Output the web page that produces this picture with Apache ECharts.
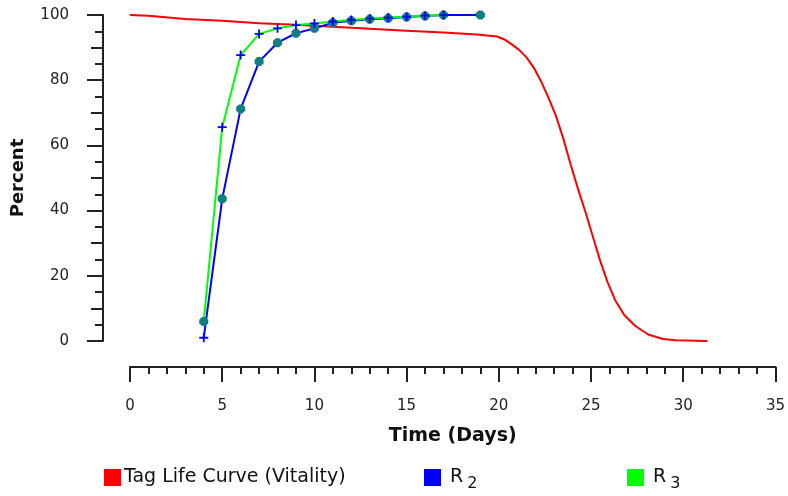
<!DOCTYPE html>
<html>
<head>
<meta charset="utf-8">
<script src="https://cdn.jsdelivr.net/npm/echarts@6/dist/echarts.min.js"></script>
<style>
html,body{margin:0;padding:0;background:#fff;}
#chart{width:788px;height:496px;}
</style>
</head>
<body>
<div id="chart"></div>
<script>
// ---- Data ----
var tagDays = [0, 1, 3, 5, 7, 9, 11, 13, 15, 17, 18.8, 19.9, 20.3, 20.7, 21.1, 21.5, 21.9, 22.3, 22.7, 23.1, 23.5, 23.9, 24.3, 24.7, 25.1, 25.5, 25.9, 26.3, 26.8, 27.4, 28.1, 28.9, 29.6, 31.3];
var tagVals = [100, 99.8, 98.8, 98.2, 97.5, 97.0, 96.4, 95.8, 95.2, 94.6, 94.0, 93.4, 92.5, 91.0, 89.3, 87.0, 83.8, 79.5, 74.5, 69.0, 62.0, 54.0, 46.5, 39.5, 32.0, 24.5, 18.0, 12.6, 8.0, 4.6, 2.0, 0.6, 0.2, 0];

var r2Days = [4, 5, 6, 7, 8, 9, 10, 11, 12, 13, 14, 15, 16, 17, 19];
var r2Vals = [1, 43.6, 71.2, 85.7, 91.5, 94.4, 95.9, 97.6, 98.2, 98.7, 99.0, 99.4, 99.7, 100, 100];

var r3Days = [4, 5, 6, 7, 8, 9, 10, 11, 12, 13, 14, 15, 16, 17];
var r3Vals = [6, 65.6, 87.7, 94.2, 95.9, 96.9, 97.4, 98.0, 98.5, 98.9, 99.2, 99.5, 99.8, 100];

var xTicks = [0, 5, 10, 15, 20, 25, 30, 35];
var yTicks = [0, 20, 40, 60, 80, 100];

var seriesNames = ['Tag Life Curve (Vitality)', 'R2', 'R3'];

// ---- Styling ----
var FONT = 'DejaVu Sans';
var plusPath = 'path://M4,0H6V4H10V6H6V10H4V6H0V4H4Z';
var blobPath = 'path://M3,0H7L10,3V7L7,10H3L0,7V3Z';
var TEAL = '#0f7f7f';

function pairs(xs, ys) { return xs.map(function (x, i) { return [x, ys[i]]; }); }

var r2Data = pairs(r2Days, r2Vals).map(function (p, i) {
  if (i === 0) return { value: p, symbol: plusPath, symbolSize: 9, itemStyle: { color: '#0000ff' } };
  return { value: p };
});
var r3Data = pairs(r3Days, r3Vals).map(function (p, i) {
  if (i === 0) return { value: p, symbol: blobPath, symbolSize: 9, itemStyle: { color: TEAL } };
  return { value: p };
});

var chart = echarts.init(document.getElementById('chart'), null, { renderer: 'canvas' });

function legendFor(name, left, color, label) {
  return {
    left: left, top: 468,
    itemWidth: 17, itemHeight: 17,
    icon: 'rect',
    padding: 0,
    data: [{ name: name, icon: 'rect', itemStyle: { color: color, borderWidth: 0 }, lineStyle: { width: 0 } }],
    selectedMode: false,
    formatter: function () { return label; },
    textStyle: {
      fontFamily: FONT, fontSize: 19, color: '#111', padding: [0, 0, 0, -2],
      rich: {
        a: { fontFamily: FONT, fontSize: 19, color: '#111', padding: [0, 0, 0, 6] },
        s: { fontFamily: FONT, fontSize: 16, color: '#111', padding: [13, 0, 0, 4] }
      }
    }
  };
}

chart.setOption({
  animation: false,
  backgroundColor: '#fff',
  textStyle: { fontFamily: FONT },
  grid: { left: 130, right: 8, top: 15, bottom: 155, containLabel: false },
  legend: [
    legendFor(seriesNames[0], 104, '#ff0000', 'Tag Life Curve (Vitality)'),
    legendFor(seriesNames[1], 424, '#0000ff', '{a|R}{s|2}'),
    legendFor(seriesNames[2], 627, '#00ff00', '{a|R}{s|3}')
  ],
  xAxis: {
    type: 'value', min: xTicks[0], max: xTicks[xTicks.length - 1], interval: 5,
    position: 'bottom', offset: 26,
    name: 'Time (Days)', nameLocation: 'middle', nameGap: 60,
    nameTextStyle: { fontFamily: FONT, fontSize: 19, fontWeight: 'bold', color: '#111' },
    axisLine: { show: true, onZero: false, lineStyle: { color: '#222', width: 2 } },
    axisTick: { show: true, inside: false, length: 15, lineStyle: { color: '#222', width: 2 } },
    minorTick: { show: true, splitNumber: 5, length: 7, lineStyle: { color: '#222', width: 2 } },
    splitLine: { show: false },
    minorSplitLine: { show: false },
    axisLabel: { margin: 32, fontFamily: FONT, fontSize: 15, color: '#222',
      formatter: function (v) { return xTicks.indexOf(v) >= 0 ? String(v) : ''; } }
  },
  yAxis: [{
    type: 'value', min: yTicks[0], max: yTicks[yTicks.length - 1], interval: 20,
    position: 'left', offset: 27,
    name: 'Percent', nameLocation: 'middle', nameGap: 76, nameRotate: 90,
    nameTextStyle: { fontFamily: FONT, fontSize: 18, fontWeight: 'bold', color: '#111' },
    axisLine: { show: true, onZero: false, lineStyle: { color: '#222', width: 2 } },
    axisTick: { show: true, length: 16, lineStyle: { color: '#222', width: 2 } },
    minorTick: { show: true, splitNumber: 4, length: 8, lineStyle: { color: '#222', width: 2 } },
    splitLine: { show: false },
    minorSplitLine: { show: false },
    axisLabel: { margin: 34, fontFamily: FONT, fontSize: 15, color: '#222',
      formatter: function (v) { return yTicks.indexOf(v) >= 0 ? String(v) : ''; } }
  }, {
    type: 'value', min: yTicks[0], max: yTicks[yTicks.length - 1], interval: 10,
    position: 'left', offset: 27,
    axisLine: { show: true, onZero: false, lineStyle: { color: '#222', width: 2, opacity: 0 } },
    axisTick: { show: true, length: 12, lineStyle: { color: '#222', width: 2 } },
    axisLabel: { show: false },
    splitLine: { show: false }
  }],
  series: [{
    name: seriesNames[0], type: 'line', yAxisIndex: 0,
    data: pairs(tagDays, tagVals),
    showSymbol: false, symbol: 'none', smooth: false,
    lineStyle: { color: '#ff0000', width: 2 },
    itemStyle: { color: '#ff0000' }
  }, {
    name: seriesNames[1], type: 'line', yAxisIndex: 0,
    data: r2Data,
    symbol: blobPath, symbolSize: 9, showSymbol: true,
    lineStyle: { color: '#0000ff', width: 2 },
    itemStyle: { color: TEAL }
  }, {
    name: seriesNames[2], type: 'line', yAxisIndex: 0,
    data: r3Data,
    symbol: plusPath, symbolSize: 9, showSymbol: true,
    lineStyle: { color: '#00ff00', width: 2 },
    itemStyle: { color: '#0000ff' }
  }]
});
</script>
</body>
</html>
